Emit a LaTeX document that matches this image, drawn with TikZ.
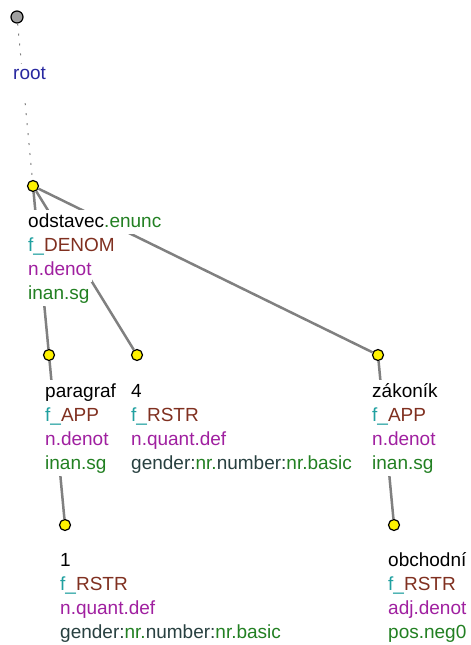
\documentclass[tikz,border=0pt]{standalone}
\usepackage{fontspec}
\setmainfont{Liberation Sans}
\definecolor{lemgreen}{RGB}{34,128,34}
\definecolor{functeal}{RGB}{32,160,160}
\definecolor{funcbrown}{RGB}{128,48,32}
\definecolor{sempurple}{RGB}{160,32,160}
\definecolor{grslate}{RGB}{40,64,64}
\definecolor{rootblue}{RGB}{40,40,160}
\setlength{\fboxsep}{0pt}
\newcommand{\wrow}[1]{\colorbox{white}{\rule[-6.5pt]{0pt}{24pt}#1}}
\newcommand{\func}[1]{\textcolor{functeal}{f\_}\textcolor{funcbrown}{#1}}
\newcommand{\gram}{\wrow{\textcolor{grslate}{gender:}\textcolor{lemgreen}{nr.}\textcolor{grslate}{number:}\textcolor{lemgreen}{nr.basic}}}
\tikzset{tnode/.style={draw,circle,fill=yellow,line width=1.2pt,minimum size=11pt,inner sep=0pt},
 branch/.style={draw=gray,line width=2.5pt},
 lbl/.style={anchor=base west,align=left,inner sep=0pt,font=\fontsize{19}{24}\selectfont}}

\begin{document}
\begin{tikzpicture}[x=1pt,y=-1pt]
\useasboundingbox (0,0) rectangle (471,645);
% tree nodes
\node[tnode,fill=gray!75,minimum size=12pt] (root) at (17,17) {};
\node[tnode] (odst) at (33,186) {};
\node[tnode] (para) at (49,355) {};\node[tnode] (four) at (137,355) {};\node[tnode] (zak) at (378,355) {};
\node[tnode] (one) at (65,525) {};\node[tnode] (obch) at (394,525) {};
% edges
\draw[gray,line width=1pt,dash pattern=on 2pt off 8pt] (root) -- (odst);
\draw[branch] (odst) -- (para);\draw[branch] (odst) -- (four);\draw[branch] (odst) -- (zak);
\draw[branch] (para) -- (one);\draw[branch] (zak) -- (obch);
% labels (anchored at the baseline of the last row)
\node[lbl,fill=white,text=rootblue,text height=15pt,text depth=17pt] (rootl) at (13,79) {root};
\node[lbl] (odstl) at (28,299) {\wrow{odstavec\textcolor{lemgreen}{.enunc}}\\
 \wrow{\func{DENOM}}\\ \wrow{\textcolor{sempurple}{n.denot}}\\ \wrow{\textcolor{lemgreen}{inan.sg}}};
\node[lbl] (paral) at (45,469) {\wrow{paragraf}\\ \wrow{\func{APP}}\\
 \wrow{\textcolor{sempurple}{n.denot}}\\ \wrow{\textcolor{lemgreen}{inan.sg}}};
\node[lbl] (fourl) at (131,469) {\wrow{4}\\ \wrow{\func{RSTR}}\\
 \wrow{\textcolor{sempurple}{n.quant.def}}\\ \gram};
\node[lbl] (zakl) at (372,469) {\wrow{zákoník}\\ \wrow{\func{APP}}\\
 \wrow{\textcolor{sempurple}{n.denot}}\\ \wrow{\textcolor{lemgreen}{inan.sg}}};
\node[lbl] (onel) at (60,638) {\wrow{1}\\ \wrow{\func{RSTR}}\\
 \wrow{\textcolor{sempurple}{n.quant.def}}\\ \gram};
\node[lbl] (obchl) at (388,638) {\wrow{obchodní}\\ \wrow{\func{RSTR}}\\
 \wrow{\textcolor{sempurple}{adj.denot}}\\ \wrow{\textcolor{lemgreen}{pos.neg0}}};
\end{tikzpicture}
\end{document}
